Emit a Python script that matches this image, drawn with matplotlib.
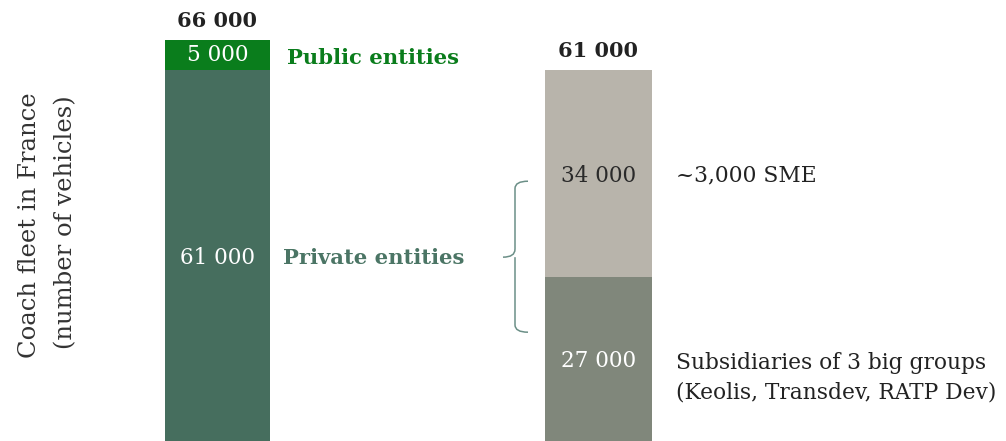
import matplotlib.pyplot as plt
from matplotlib.path import Path
from matplotlib.patches import PathPatch

# Coach fleet in France, number of vehicles
owners = ['Public entities', 'Private entities']
owner_fleet = [5000, 61000]
private_split = ['Subsidiaries of 3 big groups\n(Keolis, Transdev, RATP Dev)', '~3,000 SME']
private_fleet = [27000, 34000]

plt.rcParams['font.family'] = 'DejaVu Serif'

fig = plt.figure(figsize=(10.06, 4.41), dpi=100)
ax = fig.add_axes([0, 0, 1, 1])
ax.set_xlim(0, 1006)
ax.set_ylim(0, 72580)
ax.axis('off')

def fmt(v):
    return '{:,}'.format(v).replace(',', ' ')

# left bar: public on top of private
x1, w1 = 217.5, 105
ax.bar(x1, owner_fleet[1], width=w1, color='#466e5e')
ax.bar(x1, owner_fleet[0], bottom=owner_fleet[1], width=w1, color='#0a7d1c')
ax.text(x1, sum(owner_fleet) + 1500, fmt(sum(owner_fleet)), ha='center', va='bottom',
        fontsize=15, fontweight='bold', color='#222222')
ax.text(x1, owner_fleet[1] + owner_fleet[0] / 2, fmt(owner_fleet[0]), ha='center', va='center',
        fontsize=15.5, color='white')
ax.text(x1, owner_fleet[1] * 0.494, fmt(owner_fleet[1]), ha='center', va='center',
        fontsize=15.5, color='white')
ax.text(287, owner_fleet[1] + owner_fleet[0] / 2 - 400, owners[0], ha='left', va='center',
        fontsize=15.2, fontweight='bold', color='#0a7d1c')
ax.text(283, owner_fleet[1] * 0.494, owners[1], ha='left', va='center',
        fontsize=15.2, fontweight='bold', color='#4b7565')

# right bar: breakdown of the private fleet
x2, w2 = 598.5, 107
ax.bar(x2, private_fleet[0], width=w2, color='#80877b')
ax.bar(x2, private_fleet[1], bottom=private_fleet[0], width=w2, color='#b8b4ab')
ax.text(x2, sum(private_fleet) + 1500, fmt(sum(private_fleet)), ha='center', va='bottom',
        fontsize=15, fontweight='bold', color='#222222')
ax.text(x2, private_fleet[0] * 0.49, fmt(private_fleet[0]), ha='center', va='center',
        fontsize=15.5, color='white')
ax.text(x2, private_fleet[0] + private_fleet[1] * 0.49, fmt(private_fleet[1]), ha='center',
        va='center', fontsize=15.5, color='#2a2a2a')
ax.text(676, private_fleet[0] + private_fleet[1] * 0.49, private_split[1], ha='left',
        va='center', fontsize=15.7, color='#222222')
ax.text(676, private_fleet[0] * 0.385, private_split[0], ha='left', va='center',
        fontsize=15.7, color='#222222', linespacing=1.45)

# brace linking the private entities to their breakdown
ymid = owner_fleet[1] * 0.496
top, bot = ymid + 12500, ymid - 12350
c = 1200
verts = [(528, top), (515, top), (515, top - c), (515, ymid + 1300),
         (515, ymid + 1300), (515, ymid), (503, ymid),
         (515, ymid), (515, ymid - 1300), (515, ymid - 1300),
         (515, bot + c), (515, bot), (528, bot)]
codes = [Path.MOVETO, Path.CURVE3, Path.CURVE3, Path.LINETO,
         Path.MOVETO, Path.CURVE3, Path.CURVE3,
         Path.MOVETO, Path.CURVE3, Path.CURVE3,
         Path.LINETO, Path.CURVE3, Path.CURVE3]
ax.add_patch(PathPatch(Path(verts, codes), fill=False, edgecolor='#6b8f87', lw=1.1))

# axis title, one line per text so the gap can be set exactly
ax.text(30, 35500, 'Coach fleet in France', rotation=90,
        ha='center', va='center', fontsize=17.5, color='#333333')
ax.text(66, 36000, '(number of vehicles)', rotation=90,
        ha='center', va='center', fontsize=17.5, color='#333333')

fig.savefig('out.png', dpi=100)
